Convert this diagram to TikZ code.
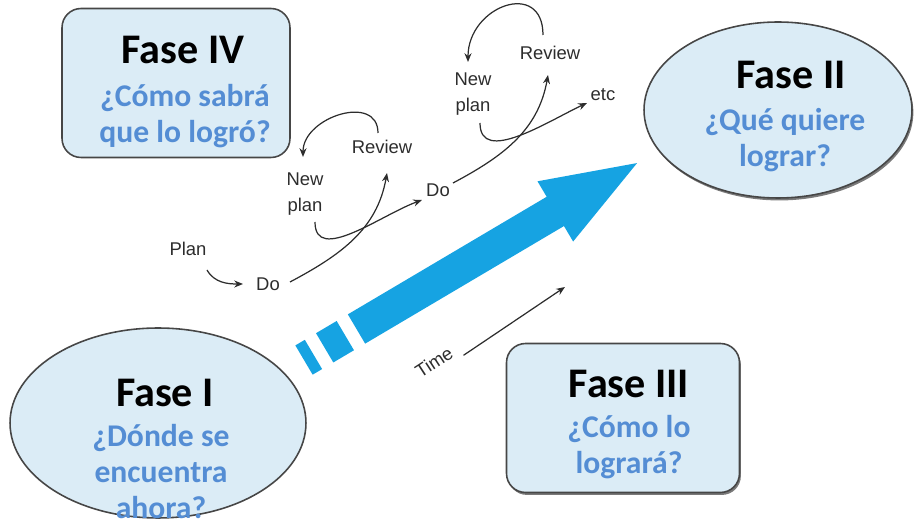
\documentclass[tikz,border=0pt]{standalone}
\usepackage{fontspec}
\setmainfont{Carlito}
\newfontfamily\pdcafont{Liberation Sans}
\usepackage{tikz}
\usetikzlibrary{shapes.geometric,arrows.meta,calc,shadows}
\definecolor{boxfill}{RGB}{219,236,246}
\definecolor{boxline}{RGB}{70,70,70}
\definecolor{questblue}{RGB}{84,141,212}
\definecolor{arrowblue}{RGB}{22,163,226}
\definecolor{pdcagray}{RGB}{45,45,45}

\begin{document}
\begin{tikzpicture}[x=0.02cm, y=0.02cm,
    fasebox/.style={draw=boxline, line width=0.9pt, fill=boxfill, rounded corners=0.38cm, inner sep=0pt},
    faseoval/.style={shape=ellipse, draw=boxline, line width=0.9pt, fill=boxfill, inner sep=0pt},
    fshadow/.style={drop shadow={shadow xshift=0.8pt, shadow yshift=-1.4pt, fill=black!75, opacity=0.7}},
    fasetitle/.style={font=\fontsize{24}{28}\selectfont\bfseries, text=black},
    fasequest/.style={font=\fontsize{18}{20.5}\selectfont\bfseries, text=questblue, align=center},
    pdca/.style={font=\pdcafont\fontsize{10.5}{15}\selectfont, text=pdcagray, align=center, inner sep=1pt},
    cyc/.style={draw=pdcagray, line width=0.7pt, -{Stealth[length=5pt,width=4pt]}}]
    \useasboundingbox (0,0) rectangle (914,521);

    % the four phases
    \node[fasebox, minimum width=4.56cm, minimum height=2.98cm] (f4) at (176,438) {};
    \node[fasebox, fshadow, minimum width=4.66cm, minimum height=2.98cm] (f3) at (623,103) {};
    \node[faseoval, minimum width=5.92cm, minimum height=3.8cm] (f1) at (158,98) {};
    \node[faseoval, fshadow, minimum width=5.36cm, minimum height=3.52cm] (f2) at (778,411) {};

    \node[fasetitle] (f4t) at ($(f4)+(7,33)$) {Fase IV};
    \node[fasequest] (f4q) at ($(f4)+(9,-33)$) {¿Cómo sabrá\\que lo logró?};
    \node[fasetitle] (f2t) at ($(f2)+(13,35)$) {Fase II};
    \node[fasequest] (f2q) at ($(f2)+(7,-30)$) {¿Qué quiere\\lograr?};
    \node[fasetitle] (f1t) at ($(f1)+(7,30)$) {Fase I};
    \node[fasequest] (f1q) at ($(f1)+(3,-49)$) {¿Dónde se\\encuentra\\ahora?};
    \node[fasetitle] (f3t) at ($(f3)+(6,34)$) {Fase III};
    \node[fasequest] (f3q) at ($(f3)+(6,-29)$) {¿Cómo lo\\logrará?};

    % big arrow
    \begin{scope}[shift={(356.5,192)}, rotate=30.6]
      \fill[arrowblue] (-61,-17) rectangle (-50,17);
      \fill[arrowblue] (-37,-17) rectangle (-13,17);
      \fill[arrowblue] (0,-17) -- (231,-17) -- (231,-35) -- (326,0)
        -- (231,35) -- (231,17) -- (0,17) -- cycle;
    \end{scope}

    % plan - do - review cycles
    \node[pdca] (plan) at (188,272) {Plan};
    \node[pdca] (do1) at (268,237) {Do};
    \node[pdca] (rev1) at (382,374) {Review};
    \node[pdca] (np1) at (305,327) {New\\plan};
    \node[pdca] (do2) at (438,331) {Do};
    \node[pdca] (rev2) at (550,468) {Review};
    \node[pdca] (np2) at (473,427) {New\\plan};
    \node[pdca] (etc) at (603,426) {etc};
    \node[pdca, rotate=33] (time) at (434,159) {Time};
    \coordinate (timeend) at (565,234);

    \draw[cyc] ($(plan)+(19,-21)$) to[out=-60,in=180] ($(do1)+(-25,0)$);
    \draw[cyc] ($(do1)+(22,2)$) to[out=28,in=-100] ($(rev1)+(5,-26)$);
    \draw[cyc] ($(rev1)+(-4,14)$) to[out=90,in=90,looseness=1.3] ($(np1)+(-2,37)$);
    \draw[cyc] ($(np1)+(10,-28)$) to[out=-90,in=200] ($(do2)+(-16,-10)$);
    \draw[cyc] ($(do2)+(15,7)$) to[out=28,in=-100] ($(rev2)+(-2,-22)$);
    \draw[cyc] ($(rev2)+(-7,18)$) to[out=90,in=90,looseness=1.8] ($(np2)+(-5,32)$);
    \draw[cyc] ($(np2)+(7,-29)$) to[out=-90,in=205] ($(etc)+(-16,-8)$);
    \draw[cyc] ($(time.south east)+(6,2)$) -- (timeend);
\end{tikzpicture}
\end{document}
